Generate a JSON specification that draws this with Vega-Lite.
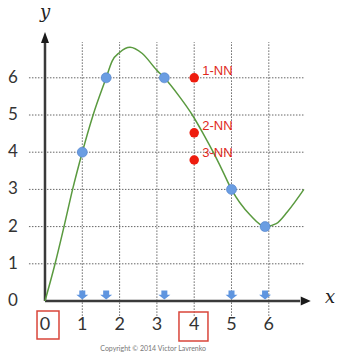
{
  "$schema": "https://vega.github.io/schema/vega-lite/v6.json",
  "width": 338,
  "height": 355,
  "autosize": "none",
  "padding": 0,
  "background": "white",
  "config": {"view": {"stroke": null}},
  "datasets": {
    "grid": [{"v": 1}, {"v": 2}, {"v": 3}, {"v": 4}, {"v": 5}, {"v": 6}],
    "ticks": [{"v": 0}, {"v": 1}, {"v": 2}, {"v": 3}, {"v": 4}, {"v": 5}, {"v": 6}],
    "axes": [{"axis": "x"}, {"axis": "y"}],
    "curve": [
      {"x": 0, "y": 0}, {"x": 0.27, "y": 1}, {"x": 0.51, "y": 2}, {"x": 0.74, "y": 3},
      {"x": 1, "y": 4}, {"x": 1.29, "y": 5}, {"x": 1.64, "y": 6}, {"x": 1.8, "y": 6.45},
      {"x": 2.0, "y": 6.68}, {"x": 2.28, "y": 6.82}, {"x": 2.6, "y": 6.66}, {"x": 3.0, "y": 6.2},
      {"x": 3.2, "y": 6.0}, {"x": 3.6, "y": 5.5}, {"x": 3.95, "y": 5.0}, {"x": 4.24, "y": 4.5},
      {"x": 4.51, "y": 4.0}, {"x": 4.76, "y": 3.5}, {"x": 5.0, "y": 3.0}, {"x": 5.5, "y": 2.31},
      {"x": 5.9, "y": 2.0}, {"x": 6.2, "y": 2.08}, {"x": 6.5, "y": 2.4}, {"x": 6.94, "y": 3.0}
    ],
    "train": [{"x": 1, "y": 4}, {"x": 1.64, "y": 6}, {"x": 3.2, "y": 6}, {"x": 5, "y": 3}, {"x": 5.9, "y": 2}],
    "nn": [{"rank": "1-NN", "x": 4, "y": 6}, {"rank": "2-NN", "x": 4, "y": 4.52}, {"rank": "3-NN", "x": 4, "y": 3.79}],
    "boxes": [{"v": 0}, {"v": 4}],
    "titles": [{"text": "x"}, {"text": "y"}],
    "credit": [{"text": "Copyright © 2014 Victor Lavrenko"}]
  },
  "layer": [
    {
      "data": {"name": "grid"},
      "mark": {"type": "rule", "color": "#666666", "strokeWidth": 1, "strokeDash": [1.5, 1.5]},
      "encoding": {
        "x": {"field": "v", "type": "quantitative",
          "scale": {"domain": [-1.2064, 7.8552], "nice": false, "zero": false}, "axis": null},
        "y": {"datum": -0.4,
          "scale": {"domain": [-1.4516, 8.0914], "nice": false, "zero": false}, "axis": null},
        "y2": {"datum": 6.96}
      }
    },
    {
      "data": {"name": "grid"},
      "mark": {"type": "rule", "color": "#666666", "strokeWidth": 1, "strokeDash": [1.5, 1.5]},
      "encoding": {
        "y": {"field": "v", "type": "quantitative", "axis": null},
        "x": {"datum": -0.43, "axis": null},
        "x2": {"datum": 6.97}
      }
    },
    {
      "data": {"name": "ticks"},
      "mark": {"type": "text", "align": "center", "baseline": "middle", "font": "Lato", "fontSize": 18, "color": "#333333"},
      "encoding": {
        "x": {"field": "v", "type": "quantitative", "axis": null},
        "y": {"datum": -0.64, "axis": null},
        "text": {"field": "v", "type": "quantitative"}
      }
    },
    {
      "data": {"name": "ticks"},
      "mark": {"type": "text", "align": "center", "baseline": "middle", "font": "Lato", "fontSize": 17, "color": "#333333"},
      "encoding": {
        "y": {"field": "v", "type": "quantitative", "axis": null},
        "x": {"datum": -0.86, "axis": null},
        "text": {"field": "v", "type": "quantitative"}
      }
    },
    {
      "data": {"name": "axes"},
      "transform": [{"filter": "datum.axis === 'y'"}],
      "mark": {"type": "rule", "color": "#3a3a3a", "strokeWidth": 2.5},
      "encoding": {
        "x": {"datum": 0, "axis": null},
        "y": {"datum": 0, "axis": null},
        "y2": {"datum": 6.94}
      }
    },
    {
      "data": {"name": "axes"},
      "transform": [{"filter": "datum.axis === 'x'"}],
      "mark": {"type": "rule", "color": "#3a3a3a", "strokeWidth": 2.5},
      "encoding": {
        "y": {"datum": 0, "axis": null},
        "x": {"datum": 0, "axis": null},
        "x2": {"datum": 6.84}
      }
    },
    {
      "data": {"name": "axes"},
      "transform": [{"filter": "datum.axis === 'y'"}],
      "mark": {"type": "point", "filled": true, "opacity": 1, "color": "#1a1a1a", "shape": "M0,-1L0.73,1L-0.73,1Z", "size": 121},
      "encoding": {
        "x": {"datum": 0, "axis": null},
        "y": {"datum": 7.08, "axis": null}
      }
    },
    {
      "data": {"name": "axes"},
      "transform": [{"filter": "datum.axis === 'x'"}],
      "mark": {"type": "point", "filled": true, "opacity": 1, "color": "#1a1a1a", "shape": "M1,0L-1,0.9L-1,-0.9Z", "size": 100},
      "encoding": {
        "x": {"datum": 6.99, "axis": null},
        "y": {"datum": 0, "axis": null}
      }
    },
    {
      "data": {"name": "curve"},
      "mark": {"type": "line", "color": "#5a9a3f", "strokeWidth": 1.5, "interpolate": "monotone"},
      "encoding": {
        "x": {"field": "x", "type": "quantitative", "axis": null},
        "y": {"field": "y", "type": "quantitative", "axis": null}
      }
    },
    {
      "data": {"name": "train"},
      "mark": {"type": "point", "filled": true, "opacity": 1, "color": "#5f95df", "shape": "M-0.5,-0.75H0.5V-0.05H1L0,0.75L-1,-0.05H-0.5Z", "size": 144},
      "encoding": {
        "x": {"field": "x", "type": "quantitative", "axis": null},
        "y": {"datum": 0.16, "axis": null}
      }
    },
    {
      "data": {"name": "train"},
      "mark": {"type": "circle", "opacity": 1, "fill": "#6a9de2", "stroke": "#4f80c9", "strokeWidth": 0.6, "size": 100},
      "encoding": {
        "x": {"field": "x", "type": "quantitative", "axis": null},
        "y": {"field": "y", "type": "quantitative", "axis": null}
      }
    },
    {
      "data": {"name": "nn"},
      "mark": {"type": "circle", "opacity": 1, "fill": "#ee1c0e", "size": 90},
      "encoding": {
        "x": {"field": "x", "type": "quantitative", "axis": null},
        "y": {"field": "y", "type": "quantitative", "axis": null}
      }
    },
    {
      "data": {"name": "nn"},
      "mark": {"type": "text", "align": "left", "baseline": "middle", "dx": 8, "dy": -7, "font": "Liberation Sans", "fontSize": 13, "color": "#e0281c"},
      "encoding": {
        "x": {"field": "x", "type": "quantitative", "axis": null},
        "y": {"field": "y", "type": "quantitative", "axis": null},
        "text": {"field": "rank"}
      }
    },
    {
      "data": {"name": "boxes"},
      "transform": [{"filter": "datum.v === 0"}],
      "mark": {"type": "point", "filled": false, "opacity": 1, "color": "#d9453a", "strokeWidth": 1.5, "shape": "M-0.57,-1H1V1H-0.57Z", "size": 784},
      "encoding": {
        "x": {"field": "v", "type": "quantitative", "axis": null},
        "y": {"datum": -0.645, "axis": null}
      }
    },
    {
      "data": {"name": "boxes"},
      "transform": [{"filter": "datum.v === 4"}],
      "mark": {"type": "point", "filled": false, "opacity": 1, "color": "#d9453a", "strokeWidth": 1.5, "shape": "M-1.05,-1H0.95V1H-1.05Z", "size": 841},
      "encoding": {
        "x": {"field": "v", "type": "quantitative", "axis": null},
        "y": {"datum": -0.685, "axis": null}
      }
    },
    {
      "data": {"name": "titles"},
      "transform": [{"filter": "datum.text === 'x'"}],
      "mark": {"type": "text", "align": "center", "baseline": "middle", "font": "DejaVu Serif", "fontStyle": "italic", "fontSize": 18, "color": "#222222"},
      "encoding": {
        "x": {"datum": 7.64, "axis": null},
        "y": {"datum": 0.08, "axis": null},
        "text": {"field": "text"}
      }
    },
    {
      "data": {"name": "titles"},
      "transform": [{"filter": "datum.text === 'y'"}],
      "mark": {"type": "text", "align": "center", "baseline": "middle", "font": "DejaVu Serif", "fontStyle": "italic", "fontSize": 18, "color": "#222222"},
      "encoding": {
        "x": {"datum": 0, "axis": null},
        "y": {"datum": 7.74, "axis": null},
        "text": {"field": "text"}
      }
    },
    {
      "data": {"name": "credit"},
      "mark": {"type": "text", "align": "center", "baseline": "middle", "font": "Lato", "fontSize": 7, "color": "#777777"},
      "encoding": {
        "x": {"datum": 2.9, "axis": null},
        "y": {"datum": -1.29, "axis": null},
        "text": {"field": "text"}
      }
    }
  ]
}
